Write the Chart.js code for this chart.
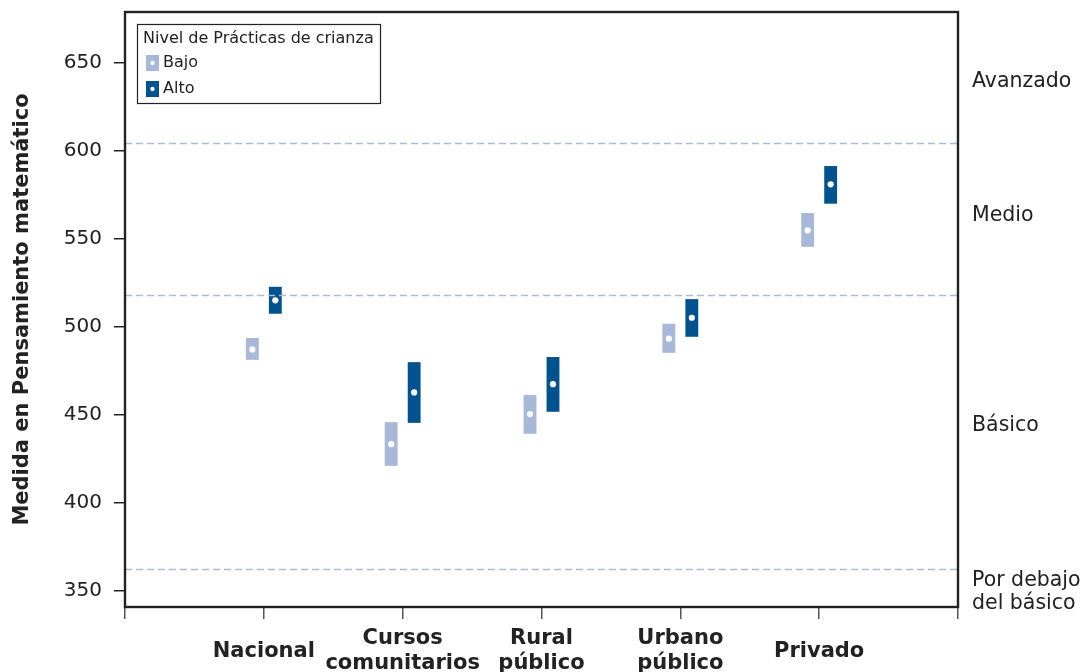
<!DOCTYPE html>
<html>
<head>
<meta charset="utf-8">
<script src="https://cdn.jsdelivr.net/npm/chart.js@4.4.1/dist/chart.umd.min.js"></script>
<style>
  html, body { margin: 0; padding: 0; background: #fff; }
  #wrap { position: relative; width: 1087px; height: 672px; }
</style>
</head>
<body>
<div id="wrap"><canvas id="grafico"></canvas></div>
<script>
// datos
const categorias = ['', 'Nacional', ['Cursos', 'comunitarios'], ['Rural', 'público'], ['Urbano', 'público'], 'Privado', ''];
const bajoMin   = [null, 481.4, 421.2, 439.4, 485.4, 545.6, null];
const bajoMax   = [null, 493.8, 446.0, 461.4, 501.9, 564.8, null];
const bajoMedia = [null, 487.3, 433.5, 450.6, 493.4, 554.9, null];
const altoMin   = [null, 507.6, 445.6, 451.9, 494.5, 570.1, null];
const altoMax   = [null, 522.9, 480.1, 483.0, 515.9, 591.5, null];
const altoMedia = [null, 515.2, 462.9, 467.6, 505.3, 581.1, null];
const yTicks = [350, 400, 450, 500, 550, 600, 650];
const cortes = [362.5, 518.2, 604.5];
const niveles = [['Por debajo', 'del básico'], ['Básico'], ['Medio'], ['Avanzado']];
const nivelesEn = [349.7, 444, 563.5, 639.5];
const series = ['Bajo', 'Alto'];
const colores = ['#A7B8D8', '#01538F'];

const FUENTE = '"DejaVu Sans", Verdana, sans-serif';
const TINTA = '#222';

const rangos = (lo, hi) => lo.map((v, i) => v == null ? null : [v, hi[i]]);

// lineas de corte, puntos de media, marco, etiquetas de nivel y leyenda
const extras = {
  id: 'extras',
  afterDatasetsDraw(chart) {
    const ctx = chart.ctx, a = chart.chartArea, y = chart.scales.y;
    ctx.save();
    ctx.strokeStyle = '#A9BBD5';
    ctx.lineWidth = 1.3;
    ctx.setLineDash([7, 4]);
    cortes.forEach(c => {
      const py = Math.round(y.getPixelForValue(c)) + 0.5;
      ctx.beginPath(); ctx.moveTo(a.left, py); ctx.lineTo(a.right, py); ctx.stroke();
    });
    ctx.setLineDash([]);
    ctx.fillStyle = '#fff';
    [bajoMedia, altoMedia].forEach((medias, d) => {
      chart.getDatasetMeta(d).data.forEach((bar, i) => {
        if (medias[i] == null) return;
        ctx.beginPath();
        ctx.arc(bar.x, y.getPixelForValue(medias[i]), 3.1, 0, Math.PI * 2);
        ctx.fill();
      });
    });
    ctx.restore();
  },
  afterDraw(chart) {
    const ctx = chart.ctx, a = chart.chartArea, y = chart.scales.y;
    ctx.save();
    ctx.strokeStyle = TINTA;
    ctx.lineWidth = 2.4;
    ctx.strokeRect(a.left, a.top, a.right - a.left, a.bottom - a.top);

    // etiquetas de nivel a la derecha
    ctx.fillStyle = TINTA;
    ctx.font = '20.5px ' + FUENTE;
    ctx.textBaseline = 'middle';
    ctx.textAlign = 'left';
    niveles.forEach((lineas, i) => {
      const cy = y.getPixelForValue(nivelesEn[i]);
      lineas.forEach((t, k) => {
        ctx.fillText(t, a.right + 14, cy + (k - (lineas.length - 1) / 2) * 23);
      });
    });

    // leyenda
    const lx = a.left + 12, ly = a.top + 12;
    ctx.fillStyle = '#fff';
    ctx.fillRect(lx, ly, 243, 79);
    ctx.lineWidth = 1.2;
    ctx.strokeRect(lx + 0.5, ly + 0.5, 243, 79);
    ctx.fillStyle = TINTA;
    ctx.font = '16px ' + FUENTE;
    ctx.fillText('Nivel de Prácticas de crianza', lx + 6, ly + 15);
    series.forEach((s, i) => {
      const cy = ly + 39 + i * 26;
      ctx.fillStyle = colores[i];
      ctx.fillRect(lx + 9, cy - 8, 13, 16);
      ctx.fillStyle = '#fff';
      ctx.beginPath(); ctx.arc(lx + 15.5, cy, 2.2, 0, Math.PI * 2); ctx.fill();
      ctx.fillStyle = TINTA;
      ctx.fillText(s, lx + 26, cy);
    });
    ctx.restore();
  }
};

new Chart(document.getElementById('grafico'), {
  type: 'bar',
  data: {
    labels: categorias,
    datasets: [
      { label: series[0], data: rangos(bajoMin, bajoMax), backgroundColor: colores[0], categoryPercentage: 0.331, barPercentage: 0.56 },
      { label: series[1], data: rangos(altoMin, altoMax), backgroundColor: colores[1], categoryPercentage: 0.331, barPercentage: 0.56 }
    ]
  },
  options: {
    responsive: true,
    maintainAspectRatio: false,
    animation: false,
    layout: { padding: { left: 0, top: 12, right: 129, bottom: 0 } },
    plugins: { legend: { display: false }, tooltip: { enabled: false } },
    scales: {
      x: {
        type: 'category',
        offset: false,
        border: { display: false },
        grid: { offset: false, drawOnChartArea: false, drawTicks: true, tickLength: 12, color: '#555', lineWidth: 1.5 },
        ticks: {
          autoSkip: false, maxRotation: 0, padding: 20,
          crossAlign: 'center',
          color: TINTA,
          font: { family: FUENTE, size: 21, weight: 'bold', lineHeight: 1.15 }
        },
        afterFit(s) { s.height = 65; s.paddingLeft = 0; s.paddingRight = 0; }
      },
      y: {
        min: 341,
        max: 679,
        border: { display: false },
        grid: { drawOnChartArea: false, drawTicks: true, tickLength: 11, color: TINTA, lineWidth: 1.5 },
        afterBuildTicks(s) { s.ticks = yTicks.map(v => ({ value: v })); },
        ticks: { padding: 12, color: TINTA, font: { family: FUENTE, size: 20 } },
        title: {
          display: true,
          text: 'Medida en Pensamiento matemático',
          color: TINTA,
          padding: { top: 10, bottom: 0 },
          font: { family: FUENTE, size: 21, weight: 'bold', lineHeight: 1.2 }
        },
        afterFit(s) { s.width = 125; s.paddingTop = 0; s.paddingBottom = 0; }
      }
    }
  },
  plugins: [extras]
});
</script>
</body>
</html>
